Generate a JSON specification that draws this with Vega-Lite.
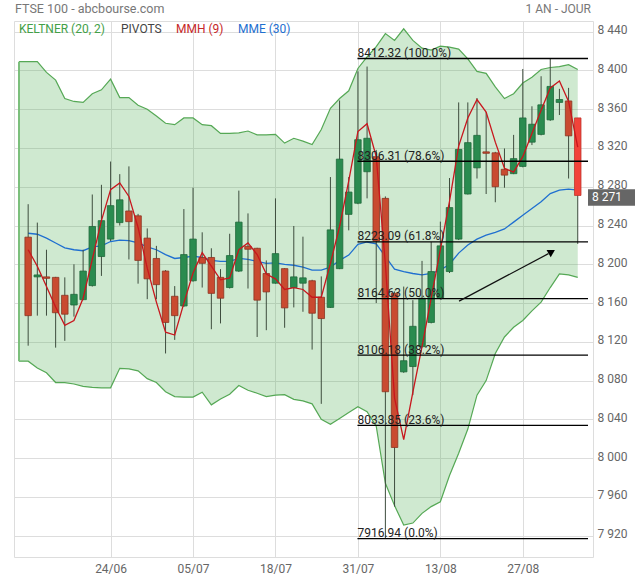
{
  "$schema": "https://vega.github.io/schema/vega-lite/v6.json",
  "width": 579,
  "height": 536,
  "autosize": {"type": "none"},
  "padding": {"left": 14, "top": 21, "right": 47, "bottom": 23},
  "background": "white",
  "config": {
    "font": "Roboto",
    "view": {"stroke": "#dddddd"},
    "axis": {"gridColor": "#dddddd", "ticks": false, "domain": false, "labelColor": "#666666", "labelFontSize": 12, "title": null, "labelFont": "Roboto"}
  },
  "datasets": {
    "k": [
      {"i": -1, "ku": 8409, "kl": 8100},
      {"d": "2024-06-11", "i": 0, "o": 8228, "h": 8262, "l": 8116, "c": 8147, "ku": 8409, "kl": 8100, "mmh": 8215, "mme": 8232},
      {"d": "2024-06-12", "i": 1, "o": 8187, "h": 8243, "l": 8147, "c": 8189, "ku": 8409, "kl": 8093, "mmh": 8198, "mme": 8231},
      {"d": "2024-06-13", "i": 2, "o": 8187, "h": 8215, "l": 8147, "c": 8185.5, "ku": 8398, "kl": 8088, "mmh": 8177, "mme": 8227},
      {"d": "2024-06-14", "i": 3, "o": 8186.5, "h": 8187, "l": 8114, "c": 8150, "ku": 8390, "kl": 8078, "mmh": 8156, "mme": 8222},
      {"d": "2024-06-17", "i": 4, "o": 8168, "h": 8186.5, "l": 8121, "c": 8148.5, "ku": 8371, "kl": 8078, "mmh": 8137, "mme": 8217},
      {"d": "2024-06-18", "i": 5, "o": 8158, "h": 8200, "l": 8146, "c": 8169, "ku": 8368, "kl": 8076.5, "mmh": 8142, "mme": 8215},
      {"d": "2024-06-19", "i": 6, "o": 8163.5, "h": 8215, "l": 8163, "c": 8193, "ku": 8367, "kl": 8074, "mmh": 8165, "mme": 8214},
      {"d": "2024-06-20", "i": 7, "o": 8178, "h": 8272, "l": 8177, "c": 8239, "ku": 8376, "kl": 8073, "mmh": 8205, "mme": 8218},
      {"d": "2024-06-21", "i": 8, "o": 8208, "h": 8282, "l": 8188, "c": 8245, "ku": 8380, "kl": 8072.5, "mmh": 8245, "mme": 8219},
      {"d": "2024-06-24", "i": 9, "o": 8226, "h": 8306, "l": 8224, "c": 8260.5, "ku": 8391, "kl": 8072.5, "mmh": 8277, "mme": 8223.5},
      {"d": "2024-06-25", "i": 10, "o": 8243, "h": 8293, "l": 8240, "c": 8266.5, "ku": 8372, "kl": 8092.7, "mmh": 8284, "mme": 8225},
      {"d": "2024-06-26", "i": 11, "o": 8255, "h": 8301, "l": 8205, "c": 8244, "ku": 8372, "kl": 8092, "mmh": 8270, "mme": 8224.5},
      {"d": "2024-06-27", "i": 12, "o": 8250, "h": 8252, "l": 8180, "c": 8204, "ku": 8364, "kl": 8090, "mmh": 8238, "mme": 8222},
      {"d": "2024-06-28", "i": 13, "o": 8227, "h": 8237, "l": 8164, "c": 8185, "ku": 8360, "kl": 8082, "mmh": 8196, "mme": 8218},
      {"d": "2024-07-01", "i": 14, "o": 8206, "h": 8219, "l": 8164, "c": 8179, "ku": 8353, "kl": 8078, "mmh": 8161, "mme": 8215},
      {"d": "2024-07-02", "i": 15, "o": 8193, "h": 8194, "l": 8108, "c": 8140, "ku": 8345.5, "kl": 8068.5, "mmh": 8130, "mme": 8210},
      {"d": "2024-07-03", "i": 16, "o": 8167, "h": 8177.5, "l": 8122, "c": 8147, "ku": 8344, "kl": 8063.5, "mmh": 8127, "mme": 8206},
      {"d": "2024-07-04", "i": 17, "o": 8157, "h": 8257, "l": 8156, "c": 8210, "ku": 8351, "kl": 8063, "mmh": 8160, "mme": 8207},
      {"d": "2024-07-05", "i": 18, "o": 8183, "h": 8279, "l": 8182, "c": 8226, "ku": 8351, "kl": 8063, "mmh": 8191, "mme": 8208.5},
      {"d": "2024-07-08", "i": 19, "o": 8207, "h": 8233, "l": 8176, "c": 8201, "ku": 8344, "kl": 8068, "mmh": 8212, "mme": 8207},
      {"d": "2024-07-09", "i": 20, "o": 8207, "h": 8216.5, "l": 8133, "c": 8170, "ku": 8343, "kl": 8055, "mmh": 8198, "mme": 8204},
      {"d": "2024-07-10", "i": 21, "o": 8186.5, "h": 8195, "l": 8139, "c": 8165, "ku": 8335, "kl": 8061, "mmh": 8184, "mme": 8203},
      {"d": "2024-07-11", "i": 22, "o": 8176, "h": 8231.5, "l": 8175, "c": 8209, "ku": 8335, "kl": 8066, "mmh": 8186, "mme": 8203},
      {"d": "2024-07-12", "i": 23, "o": 8193, "h": 8276, "l": 8192, "c": 8243.5, "ku": 8335.5, "kl": 8075, "mmh": 8215, "mme": 8206},
      {"d": "2024-07-15", "i": 24, "o": 8218.5, "h": 8252.5, "l": 8175, "c": 8215.5, "ku": 8337.5, "kl": 8070, "mmh": 8222, "mme": 8205},
      {"d": "2024-07-16", "i": 25, "o": 8216.5, "h": 8217, "l": 8125, "c": 8163, "ku": 8333.5, "kl": 8067, "mmh": 8210, "mme": 8203},
      {"d": "2024-07-17", "i": 26, "o": 8190.5, "h": 8204, "l": 8132, "c": 8171.5, "ku": 8333.5, "kl": 8063.5, "mmh": 8190, "mme": 8201},
      {"d": "2024-07-18", "i": 27, "o": 8180.5, "h": 8268, "l": 8180, "c": 8211, "ku": 8334, "kl": 8065, "mmh": 8185, "mme": 8201.5},
      {"d": "2024-07-19", "i": 28, "o": 8195.5, "h": 8196, "l": 8134.5, "c": 8155, "ku": 8325, "kl": 8065.5, "mmh": 8174, "mme": 8200},
      {"d": "2024-07-22", "i": 29, "o": 8176, "h": 8239.5, "l": 8155.5, "c": 8187, "ku": 8330, "kl": 8060.6, "mmh": 8176, "mme": 8199},
      {"d": "2024-07-23", "i": 30, "o": 8180.5, "h": 8228.5, "l": 8151, "c": 8186, "ku": 8327, "kl": 8059, "mmh": 8174, "mme": 8197},
      {"d": "2024-07-24", "i": 31, "o": 8183, "h": 8184, "l": 8112, "c": 8149.5, "ku": 8323.5, "kl": 8056, "mmh": 8166, "mme": 8194},
      {"d": "2024-07-25", "i": 32, "o": 8166, "h": 8187.5, "l": 8056, "c": 8144, "ku": 8339, "kl": 8040, "mmh": 8166, "mme": 8194},
      {"d": "2024-07-26", "i": 33, "o": 8155.5, "h": 8290, "l": 8155, "c": 8235.5, "ku": 8361, "kl": 8035, "mmh": 8201, "mme": 8197},
      {"d": "2024-07-29", "i": 34, "o": 8195.5, "h": 8369, "l": 8195, "c": 8308.5, "ku": 8371, "kl": 8041, "mmh": 8239, "mme": 8204},
      {"d": "2024-07-30", "i": 35, "o": 8251.5, "h": 8290, "l": 8235, "c": 8274.5, "ku": 8379, "kl": 8047, "mmh": 8286, "mme": 8209.5},
      {"d": "2024-07-31", "i": 36, "o": 8263, "h": 8399, "l": 8262, "c": 8328.5, "ku": 8402, "kl": 8053, "mmh": 8337, "mme": 8220.5},
      {"d": "2024-08-01", "i": 37, "o": 8295.5, "h": 8404, "l": 8268, "c": 8330, "ku": 8414, "kl": 8048, "mmh": 8345, "mme": 8223},
      {"d": "2024-08-02", "i": 38, "o": 8311, "h": 8318, "l": 8160, "c": 8224, "ku": 8424.5, "kl": 8033, "mmh": 8311, "mme": 8221},
      {"d": "2024-08-05", "i": 39, "o": 8268, "h": 8270, "l": 7916.94, "c": 8068.5, "ku": 8438, "kl": 7974, "mmh": 8200, "mme": 8208},
      {"d": "2024-08-06", "i": 40, "o": 8170, "h": 8172, "l": 7950, "c": 8011, "ku": 8431, "kl": 7951, "mmh": 8062, "mme": 8195},
      {"d": "2024-08-07", "i": 41, "o": 8089, "h": 8177, "l": 8088, "c": 8100.5, "ku": 8443, "kl": 7931, "mmh": 8019, "mme": 8192.5},
      {"d": "2024-08-08", "i": 42, "o": 8094.5, "h": 8163, "l": 8065, "c": 8136, "ku": 8431, "kl": 7933, "mmh": 8068, "mme": 8190.5},
      {"d": "2024-08-09", "i": 43, "o": 8115, "h": 8203.5, "l": 8114, "c": 8165, "ku": 8423, "kl": 7943, "mmh": 8115, "mme": 8189},
      {"d": "2024-08-12", "i": 44, "o": 8140, "h": 8223, "l": 8139, "c": 8192.5, "ku": 8421, "kl": 7950, "mmh": 8165, "mme": 8190.5},
      {"d": "2024-08-13", "i": 45, "o": 8165, "h": 8244, "l": 8164, "c": 8219, "ku": 8425, "kl": 7955, "mmh": 8215, "mme": 8194},
      {"d": "2024-08-14", "i": 46, "o": 8192.5, "h": 8289, "l": 8191, "c": 8258.5, "ku": 8424, "kl": 7982, "mmh": 8265, "mme": 8200},
      {"d": "2024-08-15", "i": 47, "o": 8226, "h": 8367, "l": 8225, "c": 8318.5, "ku": 8422, "kl": 8005, "mmh": 8322, "mme": 8211.5},
      {"d": "2024-08-16", "i": 48, "o": 8272.5, "h": 8367, "l": 8272, "c": 8325.5, "ku": 8412, "kl": 8030, "mmh": 8351, "mme": 8220},
      {"d": "2024-08-19", "i": 49, "o": 8299.5, "h": 8371.5, "l": 8288.5, "c": 8333, "ku": 8399, "kl": 8065, "mmh": 8370, "mme": 8226},
      {"d": "2024-08-20", "i": 50, "o": 8316, "h": 8357, "l": 8272.5, "c": 8314.5, "ku": 8397, "kl": 8080, "mmh": 8357, "mme": 8230},
      {"d": "2024-08-21", "i": 51, "o": 8315, "h": 8316, "l": 8264, "c": 8280, "ku": 8383, "kl": 8108, "mmh": 8326, "mme": 8233},
      {"d": "2024-08-22", "i": 52, "o": 8298, "h": 8319.5, "l": 8279, "c": 8292, "ku": 8371, "kl": 8125, "mmh": 8299, "mme": 8236.5},
      {"d": "2024-08-23", "i": 53, "o": 8293.5, "h": 8333.5, "l": 8293, "c": 8309, "ku": 8376, "kl": 8135, "mmh": 8295, "mme": 8243.5},
      {"d": "2024-08-27", "i": 54, "o": 8301, "h": 8401.5, "l": 8300, "c": 8351, "ku": 8387, "kl": 8142, "mmh": 8311, "mme": 8250.5},
      {"d": "2024-08-28", "i": 55, "o": 8326, "h": 8363, "l": 8323, "c": 8344.5, "ku": 8393, "kl": 8152, "mmh": 8335, "mme": 8257.5},
      {"d": "2024-08-29", "i": 56, "o": 8334, "h": 8394, "l": 8333, "c": 8364.5, "ku": 8401, "kl": 8161, "mmh": 8359, "mme": 8264.5},
      {"d": "2024-08-30", "i": 57, "o": 8349, "h": 8412.32, "l": 8348, "c": 8383.5, "ku": 8403, "kl": 8176, "mmh": 8382, "mme": 8273},
      {"d": "2024-09-02", "i": 58, "o": 8367, "h": 8381, "l": 8354, "c": 8370, "ku": 8404, "kl": 8190, "mmh": 8389, "mme": 8276.5},
      {"d": "2024-09-03", "i": 59, "o": 8368.5, "h": 8382, "l": 8288.5, "c": 8332.5, "ku": 8406, "kl": 8189, "mmh": 8368, "mme": 8277.5},
      {"d": "2024-09-04", "i": 60, "o": 8351, "h": 8351, "l": 8221, "c": 8271, "ku": 8401, "kl": 8186.5, "mmh": 8321, "mme": 8276.5}
    ],
    "fib": [
      {"i": 35.95, "i2": 61.12, "v": 8412.32, "lab": "8412.32  (100.0%)"},
      {"i": 35.95, "i2": 61.12, "v": 8306.31, "lab": "8306.31  (78.6%)"},
      {"i": 35.95, "i2": 61.12, "v": 8223.09, "lab": "8223.09  (61.8%)"},
      {"i": 35.95, "i2": 61.12, "v": 8164.63, "lab": "8164.63  (50.0%)"},
      {"i": 35.95, "i2": 61.12, "v": 8106.18, "lab": "8106.18  (38.2%)"},
      {"i": 35.95, "i2": 61.12, "v": 8033.85, "lab": "8033.85  (23.6%)"},
      {"i": 35.95, "i2": 61.12, "v": 7916.94, "lab": "7916.94  (0.0%)"}
    ],
    "arrow": [{"i": 47.04, "v": 8162, "i2": 56.8, "v2": 8211}],
    "head": [{"i": 57.05, "v": 8211}],
    "last": [{"p": 8271}]
  },
  "layer": [
    {
      "data": {"name": "k"},
      "mark": {"type": "area", "color": "#4caf50", "fillOpacity": 0.27, "clip": true},
      "encoding": {
        "x": {"field": "i", "type": "quantitative", "scale": {"domain": [-1, 61.12], "nice": false, "zero": false},
          "axis": {"values": [9, 18, 27, 36, 45, 54], "grid": true, "labelPadding": 6,
            "labelExpr": "datum.value==9?'24/06':datum.value==18?'05/07':datum.value==27?'18/07':datum.value==36?'31/07':datum.value==45?'13/08':'27/08'"}},
        "y": {"field": "kl", "type": "quantitative", "scale": {"domain": [7898, 8451], "nice": false, "zero": false},
          "axis": {"orient": "right", "values": [7920, 7960, 8000, 8040, 8080, 8120, 8160, 8200, 8240, 8280, 8320, 8360, 8400, 8440], "grid": true, "labelPadding": 4, "labelOffset": -2,
            "labelExpr": "replace(format(datum.value, ','), ',', ' ')"}},
        "y2": {"field": "ku"}
      }
    },
    {
      "data": {"name": "k"},
      "mark": {"type": "line", "color": "#55a855", "strokeWidth": 1.2, "clip": true},
      "encoding": {
        "x": {"field": "i", "type": "quantitative"},
        "y": {"field": "ku", "type": "quantitative", "scale": {"domain": [7898, 8451], "nice": false, "zero": false}}
      }
    },
    {
      "data": {"name": "k"},
      "mark": {"type": "line", "color": "#55a855", "strokeWidth": 1.2, "clip": true},
      "encoding": {
        "x": {"field": "i", "type": "quantitative"},
        "y": {"field": "kl", "type": "quantitative", "scale": {"domain": [7898, 8451], "nice": false, "zero": false}}
      }
    },
    {
      "data": {"name": "k"},
      "transform": [{"filter": "datum.i == -1"}],
      "mark": {"type": "rule", "color": "#7cbf7c", "strokeWidth": 2},
      "encoding": {
        "x": {"field": "i", "type": "quantitative"},
        "y": {"field": "kl", "type": "quantitative", "scale": {"domain": [7898, 8451], "nice": false, "zero": false}},
        "y2": {"field": "ku"}
      }
    },
    {
      "data": {"name": "k"},
      "mark": {"type": "line", "color": "#1f6fd0", "strokeWidth": 1.3, "clip": true},
      "encoding": {
        "x": {"field": "i", "type": "quantitative"},
        "y": {"field": "mme", "type": "quantitative", "scale": {"domain": [7898, 8451], "nice": false, "zero": false}}
      }
    },
    {
      "data": {"name": "k"},
      "transform": [{"filter": "isValid(datum.o)"}],
      "mark": {"type": "rule", "color": "#3e4d3e", "strokeWidth": 1},
      "encoding": {
        "x": {"field": "i", "type": "quantitative"},
        "y": {"field": "l", "type": "quantitative", "scale": {"domain": [7898, 8451], "nice": false, "zero": false}},
        "y2": {"field": "h"}
      }
    },
    {
      "data": {"name": "k"},
      "transform": [{"filter": "isValid(datum.o)"}],
      "mark": {"type": "bar", "orient": "vertical", "width": 6.5, "strokeWidth": 0.8},
      "encoding": {
        "x": {"field": "i", "type": "quantitative"},
        "y": {"field": "o", "type": "quantitative", "scale": {"domain": [7898, 8451], "nice": false, "zero": false}},
        "y2": {"field": "c"},
        "fill": {"condition": [{"test": "datum.i == 60", "value": "#f2433a"}, {"test": "datum.c >= datum.o", "value": "#2a8b4f"}], "value": "#c94a30"},
        "stroke": {"condition": [{"test": "datum.i == 60", "value": "#c0352c"}, {"test": "datum.c >= datum.o", "value": "#1f6a3b"}], "value": "#8c3522"}
      }
    },
    {
      "data": {"name": "k"},
      "mark": {"type": "line", "color": "#c8161d", "strokeWidth": 1.3, "clip": true},
      "encoding": {
        "x": {"field": "i", "type": "quantitative"},
        "y": {"field": "mmh", "type": "quantitative", "scale": {"domain": [7898, 8451], "nice": false, "zero": false}}
      }
    },
    {
      "data": {"name": "fib"},
      "mark": {"type": "rule", "color": "#000000", "strokeWidth": 1.3},
      "encoding": {
        "x": {"field": "i", "type": "quantitative"},
        "x2": {"field": "i2"},
        "y": {"field": "v", "type": "quantitative", "scale": {"domain": [7898, 8451], "nice": false, "zero": false}}
      }
    },
    {
      "data": {"name": "fib"},
      "mark": {"type": "text", "align": "left", "baseline": "alphabetic", "dy": -1.5, "fontSize": 12, "color": "#222222", "font": "Roboto"},
      "encoding": {
        "x": {"field": "i", "type": "quantitative"},
        "y": {"field": "v", "type": "quantitative", "scale": {"domain": [7898, 8451], "nice": false, "zero": false}},
        "text": {"field": "lab"}
      }
    },
    {
      "data": {"name": "arrow"},
      "mark": {"type": "rule", "color": "#111111", "strokeWidth": 1.2},
      "encoding": {
        "x": {"field": "i", "type": "quantitative"},
        "x2": {"field": "i2"},
        "y": {"field": "v", "type": "quantitative", "scale": {"domain": [7898, 8451], "nice": false, "zero": false}},
        "y2": {"field": "v2"}
      }
    },
    {
      "data": {"name": "head"},
      "mark": {"type": "point", "shape": "triangle-down", "filled": true, "color": "#000000", "size": 70, "opacity": 1},
      "encoding": {
        "x": {"field": "i", "type": "quantitative"},
        "y": {"field": "v", "type": "quantitative", "scale": {"domain": [7898, 8451], "nice": false, "zero": false}}
      }
    },
    {
      "data": {"name": "last"},
      "mark": {"type": "point", "shape": "M-1,-0.35H1V0.35H-1Z", "filled": true, "color": "#666666", "opacity": 1, "size": 2209, "xOffset": 23.5, "yOffset": 2, "clip": false},
      "encoding": {
        "x": {"datum": 61.12, "type": "quantitative"},
        "y": {"field": "p", "type": "quantitative", "scale": {"domain": [7898, 8451], "nice": false, "zero": false}}
      }
    },
    {
      "data": {"name": "last"},
      "mark": {"type": "text", "align": "left", "baseline": "middle", "dx": 4, "dy": 2, "fontSize": 12, "color": "#ffffff", "font": "Roboto"},
      "encoding": {
        "x": {"datum": 61.12, "type": "quantitative"},
        "y": {"field": "p", "type": "quantitative", "scale": {"domain": [7898, 8451], "nice": false, "zero": false}},
        "text": {"value": "8 271"}
      }
    },
    {
      "data": {"values": [{}]},
      "mark": {"type": "text", "text": "FTSE 100 - abcbourse.com", "x": 1, "y": -12, "align": "left", "baseline": "middle", "fontSize": 12.5, "color": "#777777", "font": "Roboto"}
    },
    {
      "data": {"values": [{}]},
      "mark": {"type": "text", "text": "1 AN - JOUR", "x": 577, "y": -12, "align": "right", "baseline": "middle", "fontSize": 12, "color": "#777777", "font": "Roboto"}
    },
    {
      "data": {"values": [{}]},
      "mark": {"type": "text", "text": "KELTNER (20, 2)", "x": 5, "y": 8, "align": "left", "baseline": "middle", "fontSize": 12, "color": "#43a047", "font": "Roboto"}
    },
    {
      "data": {"values": [{}]},
      "mark": {"type": "text", "text": "PIVOTS", "x": 107, "y": 8, "align": "left", "baseline": "middle", "fontSize": 12, "color": "#444444", "font": "Roboto"}
    },
    {
      "data": {"values": [{}]},
      "mark": {"type": "text", "text": "MMH (9)", "x": 162, "y": 8, "align": "left", "baseline": "middle", "fontSize": 12, "color": "#c62828", "font": "Roboto"}
    },
    {
      "data": {"values": [{}]},
      "mark": {"type": "text", "text": "MME (30)", "x": 224, "y": 8, "align": "left", "baseline": "middle", "fontSize": 12, "color": "#1e6fd0", "font": "Roboto"}
    }
  ]
}
